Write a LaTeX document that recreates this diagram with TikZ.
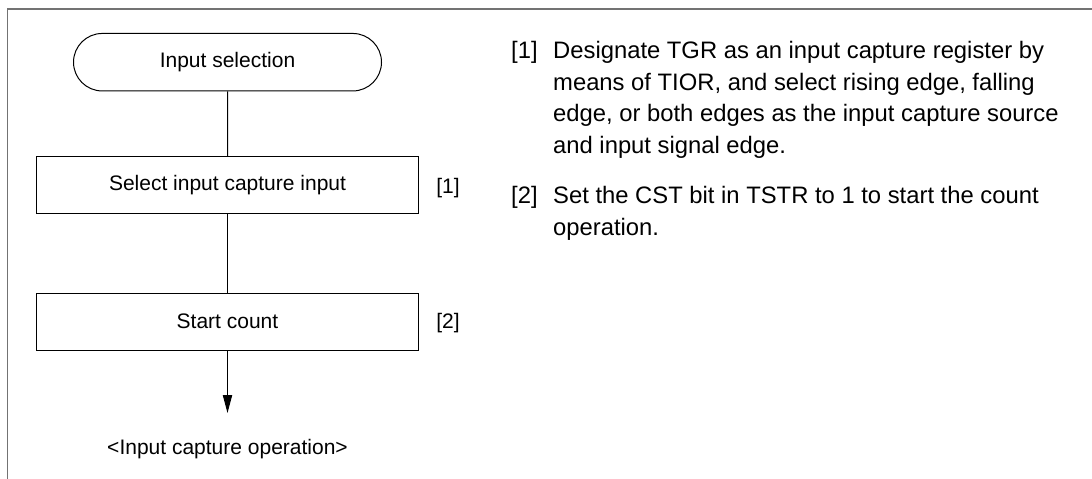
\documentclass[tikz,border=0pt]{standalone}
\usepackage{fontspec}
\setmainfont{Liberation Sans}
\usetikzlibrary{arrows.meta,shapes.misc}
\begin{document}
\begin{tikzpicture}[x=1pt,y=-1pt,
  frame/.style={draw=black!55,line width=1.3pt},
  box/.style={draw,line width=1pt,minimum width=382pt,minimum height=57pt,inner sep=0pt,font=\fontsize{21}{25}\selectfont},
  term/.style={rounded rectangle,draw,line width=1pt,minimum width=308pt,minimum height=57.5pt,inner sep=0pt,font=\fontsize{21}{25}\selectfont},
  lbl/.style={font=\fontsize{21}{25}\selectfont,inner sep=0pt},
  note/.style={font=\fontsize{23.8}{30}\selectfont,inner sep=0pt,anchor=base west},
  conn/.style={line width=1pt}]
\useasboundingbox (0,0) rectangle (1092,479);
\coordinate (f1) at (1092,9);
\coordinate (f0) at (7.5,9);
\coordinate (f2) at (7.5,479);
\draw[frame] (f1) -- (f0) -- (f2);
\node[term] (start) at (227.5,62.2) {Input selection};
\node[box] (s1) at (227.5,185.4) {Select input capture input};
\node[box] (s2) at (227.5,321.5) {Start count};
\node[lbl] (r1) at (448,188) {[1]};
\node[lbl] (r2) at (448,323) {[2]};
\coordinate (tip) at (227.5,413);
\node[lbl,anchor=base] (out) at (227.5,454.5) {<Input capture operation>};
\draw[conn] (start) -- (s1);
\draw[conn] (s1) -- (s2);
\draw[conn,-{Triangle[width=9.3pt,length=18pt]}] (s2) -- (tip);
\node[note] (n1) at (511,58.3) {[1]};
\node[note] (n1a) at (553,58.3) {Designate TGR as an input capture register by};
\node[note] (n1b) at (553,90) {means of TIOR, and select rising edge, falling};
\node[note] (n1c) at (553,121.7) {edge, or both edges as the input capture source};
\node[note] (n1d) at (553,153.3) {and input signal edge.};
\node[note] (n2) at (511,203.3) {[2]};
\node[note] (n2a) at (553,203.3) {Set the CST bit in TSTR to 1 to start the count};
\node[note] (n2b) at (553,235) {operation.};
\end{tikzpicture}
\end{document}
